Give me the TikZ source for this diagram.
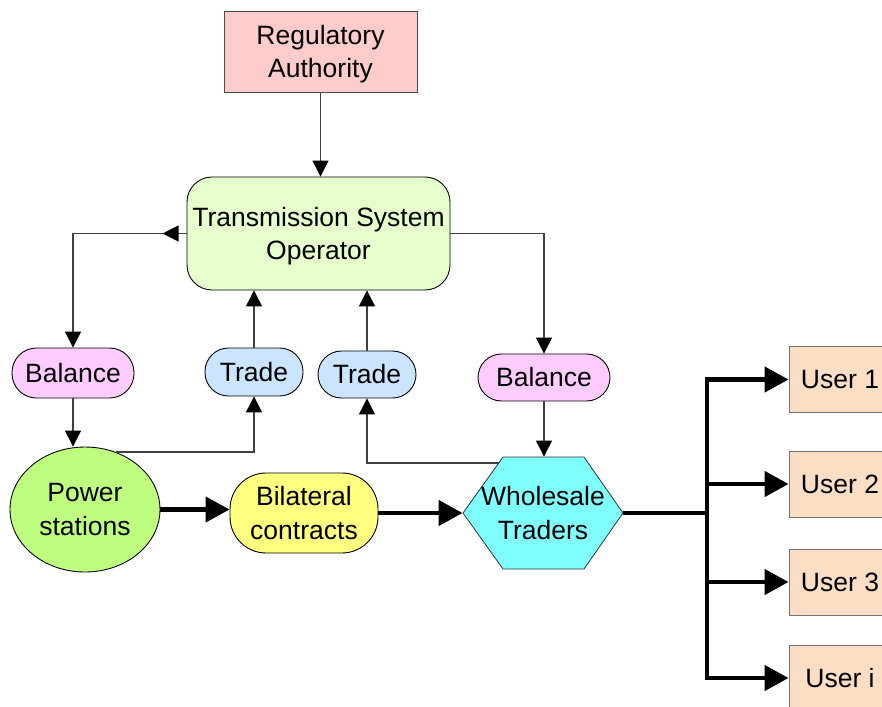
\documentclass[tikz,border=0pt]{standalone}
\usepackage{fontspec}
\setmainfont{Liberation Sans}
\usetikzlibrary{arrows.meta,shapes.geometric,calc}
\definecolor{raC}{HTML}{FFCCCC}
\definecolor{tsoC}{HTML}{E6FFCC}
\definecolor{balC}{HTML}{FFCCFF}
\definecolor{trC}{HTML}{CCE5FF}
\definecolor{psC}{HTML}{BFFF80}
\definecolor{bcC}{HTML}{FFFF80}
\definecolor{wtC}{HTML}{80FFFF}
\definecolor{usC}{HTML}{FCDEC4}
\begin{document}
\begin{tikzpicture}[x=1pt,y=-1pt,
  box/.style={draw=black, line width=0.9pt, inner sep=0pt, align=center,
    font=\fontsize{26.5}{33.5}\selectfont},
  twoline/.style={text depth=0pt, execute at begin node={\vspace*{0pt}\rule{0pt}{29pt}}},
  pill/.style={box, rounded corners=#1},
  conn/.style={draw=black!75, line width=1.2pt},
  tarr/.style={conn, -{Triangle[length=16pt,width=16pt,color=black]}},
  thk/.style={line width=4.5pt, draw=black},
  karr/.style={thk, -{Triangle[length=24pt,width=25pt]}}]
\useasboundingbox (0,0) rectangle (882,706);
\clip (0,0) rectangle (882,706);

\node[box, twoline, draw=black!70, fill=raC, minimum width=193pt, minimum height=81pt] (ra) at (320.5,51.5) {Regulatory\\Authority};
\node[pill=25pt, twoline, fill=tsoC, minimum width=263pt, minimum height=113pt] (tso) at (318.5,233.5) {Transmission System\\Operator};
\node[pill=24.5pt, fill=balC, minimum width=122pt, minimum height=50pt] (b1) at (73,373) {Balance};
\node[pill=23.5pt, fill=trC, minimum width=98pt, minimum height=48pt] (t1) at (254,372) {Trade};
\node[pill=23.5pt, fill=trC, minimum width=98pt, minimum height=47pt] (t2) at (367,374.5) {Trade};
\node[pill=23.5pt, fill=balC, minimum width=132pt, minimum height=47pt] (b2) at (544,377.5) {Balance};
\node[box, twoline, ellipse, fill=psC, minimum width=150pt, minimum height=125pt] (ps) at (85,509.5) {Power\\stations};
\node[pill=36pt, twoline, fill=bcC, minimum width=148pt, minimum height=80pt] (bc) at (304,513) {Bilateral\\contracts};

\filldraw[fill=wtC, draw=black!80, line width=0.8pt] (463,513) -- (503,457) -- (584,457) -- (623,513) -- (584,569) -- (503,569) -- cycle;
\node[box, twoline, draw=none, minimum width=160pt, minimum height=112pt] (wt) at (543,513) {Wholesale\\Traders};
\coordinate (wtp) at (498.7,463);

\node[box, draw=black!55, fill=usC, minimum width=102pt, minimum height=66pt] (u1) at (840,379.5) {User 1};
\node[box, draw=black!55, fill=usC, minimum width=102pt, minimum height=66pt] (u2) at (840,484) {User 2};
\node[box, draw=black!55, fill=usC, minimum width=102pt, minimum height=66pt] (u3) at (840,582) {User 3};
\node[box, draw=black!55, fill=usC, minimum width=102pt, minimum height=66pt] (ui) at (840,678) {User i};
\coordinate (j) at (707,513);

\draw[tarr] (ra.south) -- (ra.south |- tso.north);
\draw[tarr] (tso.west) -| (b1.north);
\draw[tarr] (tso.west) -- ++(-24,0);
\draw[tarr] (tso.east) -| (b2.north);
\draw[tarr] (t1.north) -- (t1.north |- tso.south);
\draw[tarr] (t2.north) -- (t2.north |- tso.south);
\draw[tarr] (b1.south) -- (b1.south |- ps.north);
\draw[tarr] (ps.62.6) -| (t1.south);
\draw[tarr] (wtp) -| (t2.south);
\draw[tarr] (b2.south) -- (b2.south |- wt.north);

\draw[karr] (ps.east) -- (ps.east -| bc.west);
\draw[karr] (bc.east) -- (wt.west);
\draw[thk] (wt.east) -- (j);
\draw[thk, line cap=rect] (j |- u1.west) -- (j |- ui.west);
\draw[karr] (j |- u1.west) -- (u1.west);
\draw[karr] (j |- u2.west) -- (u2.west);
\draw[karr] (j |- u3.west) -- (u3.west);
\draw[karr] (j |- ui.west) -- (ui.west);
\end{tikzpicture}
\end{document}
